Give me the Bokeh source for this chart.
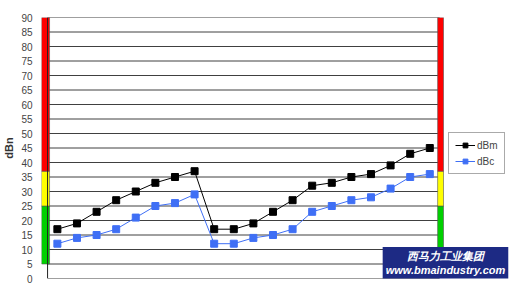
from bokeh.plotting import figure
from bokeh.embed import file_html
from bokeh.resources import INLINE
from bokeh.models import Range1d, Span, Label, Legend, LegendItem, FixedTicker

# ---- data ----
dbm = [17, 19, 23, 27, 30, 33, 35, 37, 17, 17, 19, 23, 27, 32, 33, 35, 36, 39, 43, 45]
dbc = [12, 14, 15, 17, 21, 25, 26, 29, 12, 12, 14, 15, 17, 23, 25, 27, 28, 31, 35, 36]
y_ticks = list(range(0, 95, 5))
zone_bottoms = [5, 25, 37]
zone_tops = [25, 37, 90]
zone_colors = ["#00d000", "#ffff00", "#ff0000"]
series_names = ["dBm", "dBc"]
series_colors = ["#000000", "#3f6ff5"]
y_label = "dBn"
watermark = "西马力工业集团\nwww.bmaindustry.com"

n = len(dbm)
xs = [i + 0.5 for i in range(n)]

p = figure(width=532, height=290, output_backend="svg", toolbar_location=None,
           x_range=Range1d(-0.31, 24.74), y_range=Range1d(0, 90),
           min_border_left=41, min_border_right=0, min_border_top=17, min_border_bottom=12)
p.outline_line_color = None
p.background_fill_color = "white"
p.xaxis.visible = False
p.xgrid.visible = False
p.ygrid.visible = False

p.yaxis.ticker = FixedTicker(ticks=y_ticks)
p.yaxis.axis_line_color = None
p.yaxis.major_tick_line_color = None
p.yaxis.minor_tick_line_color = None
p.yaxis.major_label_standoff = 3
p.yaxis.major_label_text_font = "Liberation Sans"
p.yaxis.major_label_text_font_size = "10px"
p.yaxis.major_label_text_color = "#444444"
p.yaxis.axis_label = y_label
p.yaxis.axis_label_text_font = "Liberation Sans"
p.yaxis.axis_label_text_font_size = "11px"
p.yaxis.axis_label_text_font_style = "bold"
p.yaxis.axis_label_text_color = "#333333"
p.yaxis.axis_label_standoff = 3

# horizontal grid lines spanning the category area
p.segment(x0=0, x1=n, y0=y_ticks, y1=y_ticks, line_color="#404040", line_width=1)
p.add_layout(Span(location=0, dimension="height", line_color="#222222", line_width=1))

# zone bars on both sides
for b, t, c in zip(zone_bottoms, zone_tops, zone_colors):
    p.quad(left=-0.31, right=0.1, bottom=b, top=t, fill_color=c, line_color="#555555", line_width=0.6)
    p.quad(left=n - 0.1, right=n + 0.2, bottom=b, top=t, fill_color=c, line_color="#555555", line_width=0.6)

items = []
for vals, name, col in zip([dbm, dbc], series_names, series_colors):
    r1 = p.line(xs, vals, line_color=col, line_width=1)
    r2 = p.scatter(xs, vals, marker="square", size=7, fill_color=col, line_color=col)
    items.append(LegendItem(label=name, renderers=[r1, r2]))

legend = Legend(items=items, location=(407, 104), orientation="vertical",
                label_text_font="Liberation Sans", label_text_font_size="10px",
                label_text_color="#444444", glyph_width=20, glyph_height=12,
                label_standoff=2, padding=6, spacing=4, margin=0,
                border_line_color="#555555", border_line_width=1,
                background_fill_alpha=1)
p.add_layout(legend, "center")

lab = Label(x=20.3, y=-0.3, text=watermark, text_align="center", text_baseline="bottom",
            text_color="white", text_font="Liberation Sans", text_font_size="11px",
            text_font_style="bold italic", background_fill_color="#1d2a84",
            padding=3)
p.add_layout(lab)

open("out.html", "w").write(file_html(p, INLINE))
